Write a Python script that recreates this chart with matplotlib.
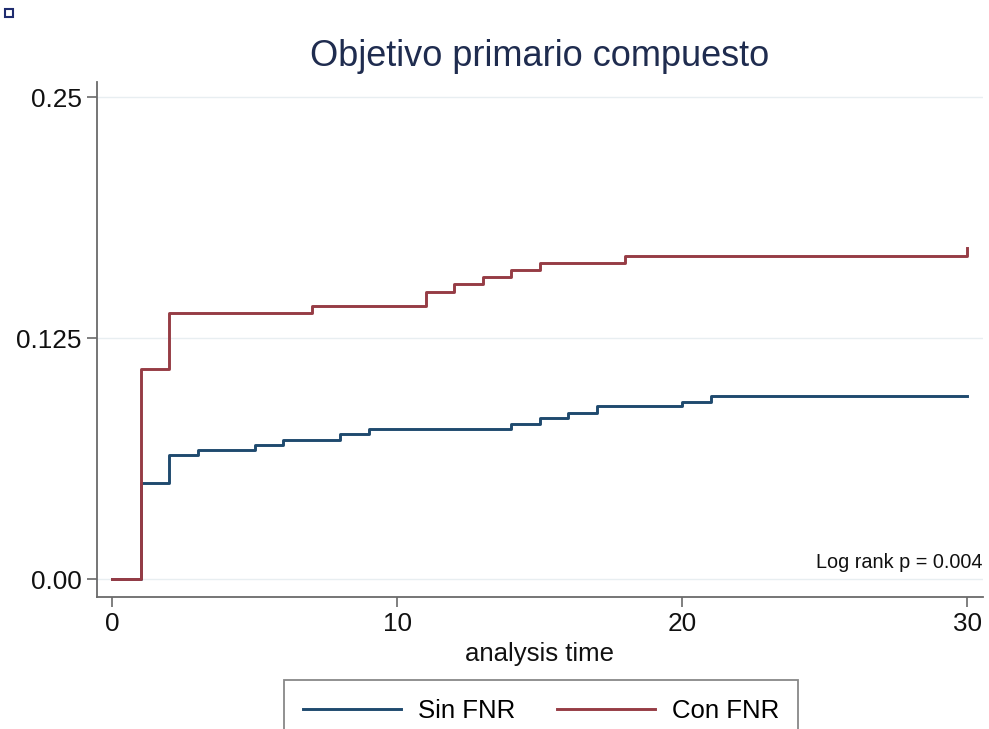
import matplotlib
matplotlib.use("Agg")
import matplotlib.pyplot as plt
from matplotlib.patches import Rectangle

plt.rcParams['font.family'] = ['Liberation Sans', 'DejaVu Sans']

# Kaplan-Meier failure estimates
t_sin = [0, 1, 2, 3, 5, 6, 8, 9, 14, 15, 16, 17, 20, 21, 30]
f_sin = [0.0, 0.0498, 0.0643, 0.0669, 0.0695, 0.0721, 0.0752, 0.0776,
         0.0804, 0.0833, 0.0863, 0.0897, 0.0920, 0.0951, 0.0951]
t_con = [0, 1, 2, 7, 11, 12, 13, 14, 15, 18, 30, 30]
f_con = [0.0, 0.1089, 0.1381, 0.1416, 0.1490, 0.1528, 0.1565, 0.1603,
         0.1637, 0.1675, 0.1675, 0.1717]

yticks = [0.0, 0.125, 0.25]
ytick_labels = ["0.00", "0.125", "0.25"]
xticks = [0, 10, 20, 30]

navy = "#1f4a6e"
maroon = "#963c45"

fig = plt.figure(figsize=(9.89, 7.29), dpi=100)
ax = fig.add_axes([0.0981, 0.1811, 0.8958, 0.7064])

ax.step(t_sin, f_sin, where='post', color=navy, lw=2.1, label="Sin FNR")
ax.step(t_con, f_con, where='post', color=maroon, lw=2.1, label="Con FNR")

ax.set_xlim(-0.53, 30.56)
ax.set_ylim(-0.0093, 0.2578)
ax.set_xticks(xticks)
ax.set_yticks(yticks)
ax.set_yticklabels(ytick_labels)
ax.grid(axis='y', color='#e8eef1', lw=1.0)
ax.set_axisbelow(True)

for s in ['top', 'right']:
    ax.spines[s].set_visible(False)
for s in ['left', 'bottom']:
    ax.spines[s].set_color('#6a6a6a')
    ax.spines[s].set_linewidth(1.3)
ax.tick_params(axis='both', length=7, width=1.2, color='#6a6a6a',
               labelsize=18.8, labelcolor='#111111', pad=4)

ax.set_xlabel("analysis time", fontsize=18.5, color='#111111', labelpad=4)
fig.text(0.546, 0.922, "Objetivo primario compuesto", ha='center', va='center',
         fontsize=26, color='#1f2c4f')
ax.text(1.0, 0.066, "Log rank p = 0.004", transform=ax.transAxes,
        ha='right', va='center', fontsize=14.3, color='#111111')

leg = fig.legend(loc='upper center', bbox_to_anchor=(0.547, 0.0672),
                 ncol=2, fontsize=18.5, frameon=True, fancybox=False,
                 handlelength=3.8, handletextpad=0.65, columnspacing=1.65,
                 borderpad=0.75, borderaxespad=0)
leg.get_frame().set_edgecolor('#6a6a6a')
leg.get_frame().set_linewidth(1.3)

# small marker square in the top-left corner
fig.patches.append(Rectangle((5 / 989, 1 - 17 / 729), 8 / 989, 8 / 729,
                             transform=fig.transFigure, fill=False,
                             edgecolor='#1f2c6f', lw=1.5))

fig.savefig("out.png", dpi=100)
